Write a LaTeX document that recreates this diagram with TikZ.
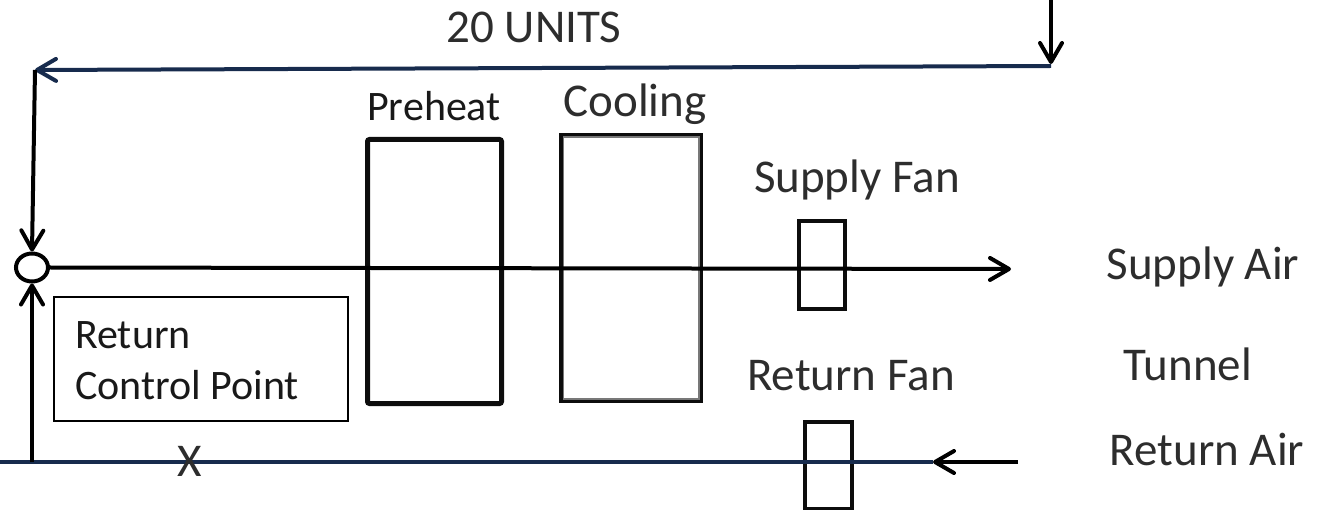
\documentclass[tikz,border=0pt]{standalone}
\usepackage{fontspec}
\setmainfont{Carlito}
\usepackage{xcolor}
\usetikzlibrary{arrows.meta,positioning,shapes.geometric}
\definecolor{ductblue}{RGB}{23,43,77}
\definecolor{coilgray}{RGB}{120,120,120}
\definecolor{textgray}{RGB}{45,45,45}
\begin{document}
\begin{tikzpicture}[x=1pt,y=-1pt,
  lbl/.style={inner sep=0pt,text=textgray,font=\fontsize{47}{50}\selectfont},
  boxlbl/.style={inner sep=0pt,text=black!90,font=\fontsize{42}{46}\selectfont},
  coil/.style={draw,black!95,line width=5pt,inner sep=0pt},
  fanbox/.style={draw,black!95,line width=4pt,inner sep=0pt},
  airline/.style={line width=4pt},
  tip/.style={-{Straight Barb[length=19pt,width=22pt,line width=4pt,round]}}]
  \useasboundingbox (0,0) rectangle (1322,510);
  % coils and fans
  \node[coil,rounded corners=2pt,minimum width=134pt,minimum height=264pt] (preheat) at (434.5,271.5) {};
  \node[coil,minimum width=139pt,minimum height=265pt] (cooling) at (631,268) {};
  \node[draw,coilgray,line width=1.5pt,inner sep=0pt,minimum width=135.5pt,minimum height=261.5pt] (coolingin) at (631,268) {};
  \node[fanbox,minimum width=46pt,minimum height=88pt] (supplyfan) at (822,265) {};
  \node[fanbox,minimum width=47pt,minimum height=87pt] (returnfan) at (828.5,465) {};
  \node[draw,line width=1.5pt,minimum width=294pt,minimum height=124pt,inner sep=0pt] (ctrlbox) at (201,359) {};
  \node[draw,ellipse,line width=4pt,minimum width=32pt,minimum height=28pt,inner sep=0pt] (mixpt) at (32,267.5) {};
  % free ends
  \coordinate (supplyend) at (1011,269);
  \coordinate (returnstart) at (1018,462);
  \coordinate (returnend) at (933,462);
  \coordinate (ductleft) at (0,462);
  \coordinate (junction) at (32,462);
  \coordinate (topstart) at (1051,0);
  \coordinate (topcorner) at (1051,64);
  \coordinate (bluecorner) at (1051,66);
  \coordinate (topend) at (35,70);
  % air lines
  \draw[airline,tip] (mixpt.east) -- (supplyend);
  \draw[airline,ductblue] (ductleft) -- (returnend);
  \draw[airline,tip] (returnstart) -- (returnend);
  \draw[airline,tip] (junction) -- (mixpt.south);
  \draw[airline,tip] (topstart) -- (topcorner);
  \draw[airline,ductblue,tip] (bluecorner) -- (topend);
  \draw[airline,tip] (topend) -- (mixpt.north);
  % labels
  \node[lbl] (units) at (534,27) {20 UNITS};
  \node[boxlbl] (preheatlbl) at (434,106) {Preheat};
  \node[lbl] (coolinglbl) at (635,104) {Cooling};
  \node[lbl] (supplyfanlbl) at (857,180) {Supply Fan};
  \node[lbl] (returnfanlbl) at (851,376) {Return Fan};
  \node[lbl] (supplyair) at (1203,267) {Supply Air};
  \node[lbl] (tunnel) at (1188,364) {Tunnel};
  \node[lbl] (returnair) at (1207,450) {Return Air};
  \node[boxlbl,anchor=west] (retlbl) at (75,335) {Return};
  \node[boxlbl,anchor=west] (ctrllbl) at (75,385) {Control Point};
  \node[lbl] (xmark) at (190,461) {X};
\end{tikzpicture}
\end{document}
